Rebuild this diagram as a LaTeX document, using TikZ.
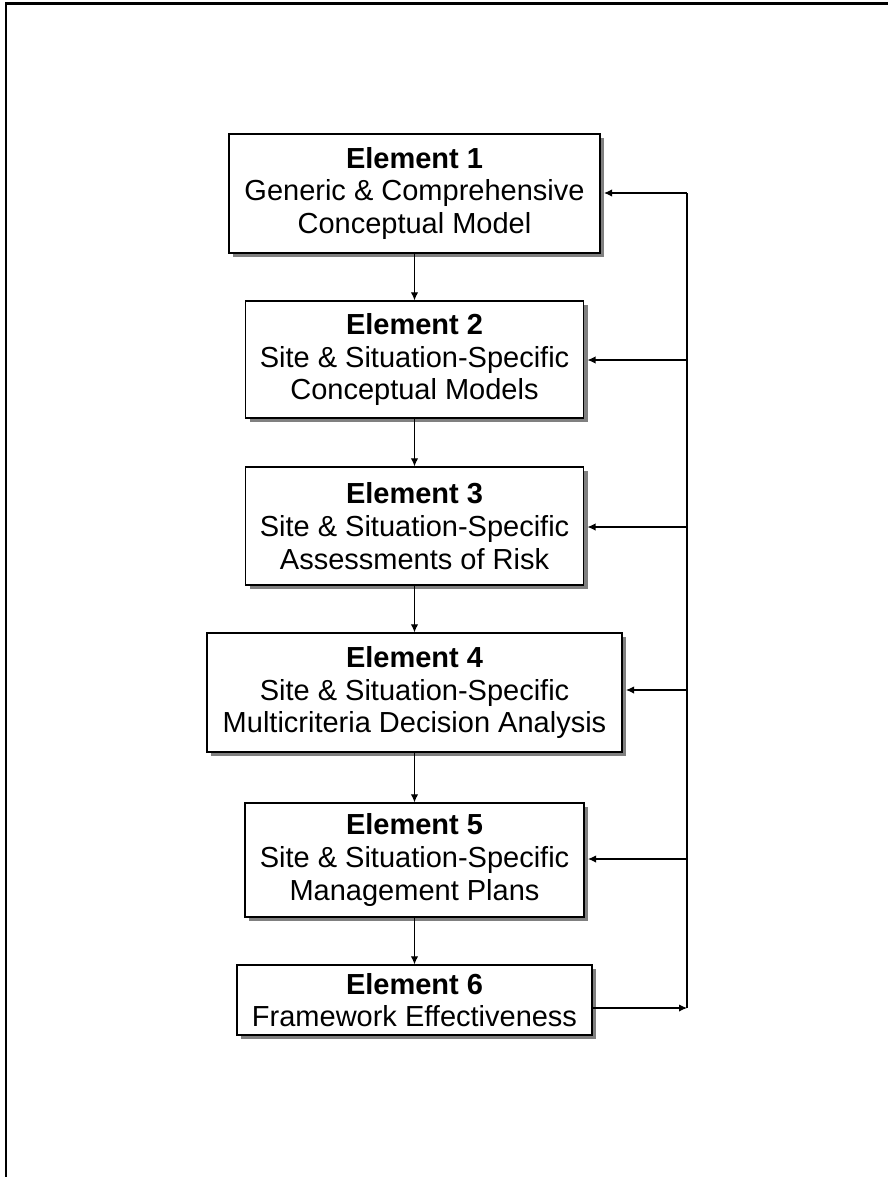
\documentclass[tikz,border=0pt]{standalone}
\usepackage{fontspec}
\setmainfont{Liberation Sans}
\usetikzlibrary{shadows,arrows.meta}

\begin{document}
\begin{tikzpicture}
		[x=0.75pt,y=-0.75pt,>={Latex[length=6pt,width=5.5pt]}]
			\tikzstyle{elem}=[draw, line width=1pt, fill=white, align=center,
		inner sep=0pt, font=\fontsize{21.75}{24.5}\selectfont,
		drop shadow={shadow xshift=3pt, shadow yshift=-3pt, fill=black!50, opacity=1}]
			\tikzstyle{link}=[line width=0.8pt]
		\useasboundingbox (0,0) rectangle (888,1177);
		%-----frame
		 \draw[line width=1.7pt] (6,1177) -- (6,3.5) -- (888,3.5);
		%-----elements
		 \node[elem, minimum width=278.25pt, minimum height=89.25pt]  (E1) at (414.5,193.5) {\textbf{Element 1}\\Generic \& Comprehensive\\Conceptual Model};
		 \node[elem, minimum width=253.5pt, minimum height=87.75pt]  (E2) at (414.5,359.5) {\textbf{Element 2}\\Site \& Situation-Specific\\Conceptual Models};
		 \node[elem, minimum width=253.5pt, minimum height=88.5pt]  (E3) at (414.5,526) {\textbf{Element 3}\\Site \& Situation-Specific\\Assessments of Risk};
		 \node[elem, minimum width=311.25pt, minimum height=89.25pt]  (E4) at (414.5,692.5) {\textbf{Element 4}\\Site \& Situation-Specific\\Multicriteria Decision Analysis};
		 \node[elem, minimum width=254.25pt, minimum height=85.5pt]  (E5) at (414.5,860) {\textbf{Element 5}\\Site \& Situation-Specific\\Management Plans};
		 \node[elem, minimum width=266.25pt, minimum height=52.5pt]  (E6) at (414.5,1000) {\textbf{Element 6}\\Framework Effectiveness};
		 
		%-----feedback loop
		 \coordinate (J1) at (687,193);
		 \coordinate (J2) at (687,360);
		 \coordinate (J3) at (687,527);
		 \coordinate (J4) at (687,690);
		 \coordinate (J5) at (687,859);
		 \coordinate (J6) at (687,1008);
		 
		 \draw[link,->] (E6.east |- J6) -- (J6);
		 \draw[link] (J6) -- (J1);
		 
		 \foreach \n in {1,2,3,4,5}
		 \draw[link,->,shorten >=2.5pt] (J\n) -- (J\n -| E\n.east);
		 
		 \foreach \from/\to in {E1/E2, E2/E3, E3/E4, E4/E5, E5/E6}
		 \draw[link,->] (\from.south) -- (\to.north);
		 
\end{tikzpicture}
\end{document}
